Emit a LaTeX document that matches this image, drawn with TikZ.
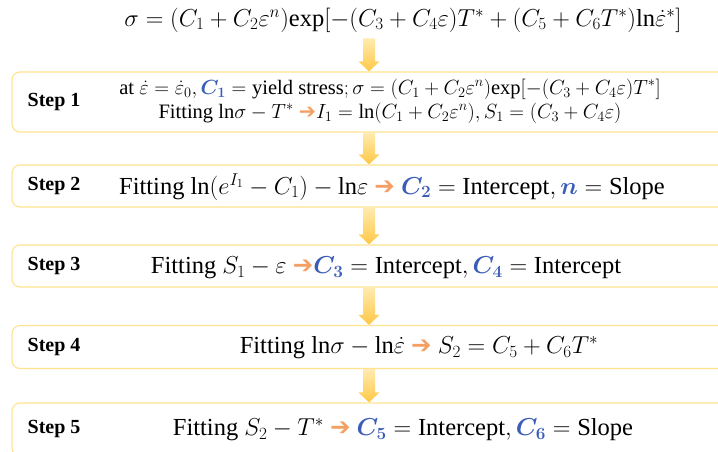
\RequirePackage{fix-cm}
\documentclass[tikz,border=0pt]{standalone}
\usepackage{amsmath,bm}
\usepackage{fontspec}
\setmainfont{Liberation Serif}
\newfontfamily\arrowfont{DejaVu Sans}
\usetikzlibrary{positioning,calc}
\definecolor{boxline}{HTML}{FFE38F}
\definecolor{arrtop}{HTML}{FFEBB0}
\definecolor{arrbot}{HTML}{FFC845}
\definecolor{arrorange}{HTML}{F4A065}
\definecolor{cblue}{HTML}{3B5DB8}
\newcommand{\oarr}{{\arrowfont\textcolor{arrorange}{➔}}}
\newcommand{\bc}[1]{\textcolor{cblue}{\bm{#1}}}
\tikzset{
  stepbox/.style={draw=boxline,line width=1.1pt,rounded corners=8pt,fill=white,
    minimum width=728pt},
  steplabel/.style={font=\fontsize{20}{22}\selectfont\bfseries,inner sep=0pt},
  fittext/.style={font=\fontsize{24.5}{28}\selectfont,align=center,inner sep=0pt},
  smalltext/.style={font=\fontsize{20.5}{24}\selectfont,align=center,inner sep=0pt},
  flowarrow/.style={top color=arrtop,bottom color=arrbot,draw=none}
}

\begin{document}
\begin{tikzpicture}[x=1pt,y=-1pt]
\useasboundingbox (0,0) rectangle (718,452);
\clip (0,0) rectangle (718,452);
\coordinate (ax) at (369,0);
\node[fittext,inner ysep=6pt] (eq) at (403,20)
  {$\sigma=(C_1+C_2\varepsilon^n)\mathrm{exp}[-(C_3+C_4\varepsilon)T^*+(C_5+C_6T^*)\mathrm{ln}\dot{\varepsilon}^*]$};
% step boxes
\node[stepbox,minimum height=60pt] (b1) at (376,102) {};
\node[stepbox,minimum height=42pt] (b2) at (376,186) {};
\node[stepbox,minimum height=42pt] (b3) at (376,266) {};
\node[stepbox,minimum height=43pt] (b4) at (376,347) {};
\node[stepbox,minimum height=53pt] (b5) at (376,429.5) {};
\node[steplabel,right=16pt of b1.west] (s1) {Step 1};
\node[steplabel,right=16pt of b2.west] (s2) {Step 2};
\node[steplabel,right=16pt of b3.west] (s3) {Step 3};
\node[steplabel,right=16pt of b4.west] (s4) {Step 4};
\node[steplabel,right=16pt of b5.west] (s5) {Step 5};
\node[smalltext] (t1) at (390,101)
  {at $\dot{\varepsilon}=\dot{\varepsilon}_0,\bc{C_1}=\text{yield stress};\sigma=(C_1+C_2\varepsilon^n)\mathrm{exp}[-(C_3+C_4\varepsilon)T^*]$\\
   Fitting $\mathrm{ln}\sigma-T^*$ \oarr$I_1=\mathrm{ln}(C_1+C_2\varepsilon^n),S_1=(C_3+C_4\varepsilon)$};
\node[fittext] (t2) at (392,187)
  {Fitting $\mathrm{ln}(e^{I_1}-C_1)-\mathrm{ln}\varepsilon$ \oarr\ $\bc{C_2}=\text{Intercept},\bc{n}=\text{Slope}$};
\node[fittext] (t3) at (386,268)
  {Fitting $S_1-\varepsilon$ \oarr$\bc{C_3}=\text{Intercept},\bc{C_4}=\text{Intercept}$};
\node[fittext] (t4) at (419,348)
  {Fitting $\mathrm{ln}\sigma-\mathrm{ln}\dot{\varepsilon}$ \oarr\ $S_2=C_5+C_6T^*$};
\node[fittext] (t5) at (403,430)
  {Fitting $S_2-T^*$ \oarr\ $\bc{C_5}=\text{Intercept},\bc{C_6}=\text{Slope}$};
% block arrows between steps
\foreach \a/\b in {eq/b1,b1/b2,b2/b3,b3/b4,b4/b5}
  \shade[flowarrow] let \p1=(\a.south -| ax), \p2=(\b.north -| ax) in
    (\x1-6pt,\y1) -- (\x1-6pt,\y2+10pt) -- (\x1-10.5pt,\y2+10pt) -- (\x2,\y2)
    -- (\x1+10.5pt,\y2+10pt) -- (\x1+6pt,\y2+10pt) -- (\x1+6pt,\y1) -- cycle;
\end{tikzpicture}
\end{document}
